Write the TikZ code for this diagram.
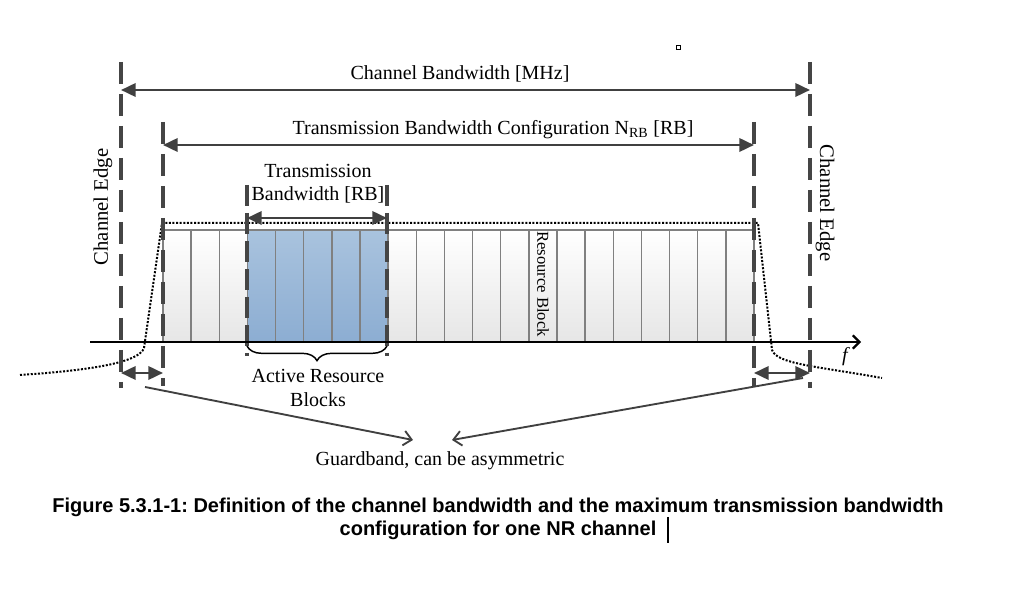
\documentclass[tikz,border=0pt]{standalone}
\usepackage{fontspec}
\setmainfont{Liberation Serif}
\newfontfamily\capfont{Liberation Sans}
\usetikzlibrary{arrows.meta,decorations.pathreplacing}
\definecolor{dkgray}{HTML}{404040}
\definecolor{edgegray}{HTML}{454545}
\definecolor{rbline}{HTML}{808080}
\definecolor{rbtop}{HTML}{FFFFFF}
\definecolor{rbbot}{HTML}{E6E6E6}
\definecolor{actop}{HTML}{A9C3DE}
\definecolor{acbot}{HTML}{8CADD2}
\frenchspacing
\begin{document}
\begin{tikzpicture}[x=0.75pt,y=-0.75pt,
  edgeline/.style={draw=edgegray,line width=2.5pt,dash pattern=on 16.5pt off 7.5pt},
  actline/.style={draw=edgegray,line width=2.5pt,dash pattern=on 16pt off 5pt},
  dimarrow/.style={draw=dkgray,line width=1.9pt,{Triangle[length=11pt,width=10pt]}-{Triangle[length=11pt,width=10pt]}},
  pointer/.style={draw=dkgray,line width=1.4pt,-{Straight Barb[length=6pt,width=11pt,line width=1.4pt]}},
  axisline/.style={draw=black,line width=1.6pt,-{Straight Barb[length=5pt,width=10pt,line width=1.6pt]}},
  spectrum/.style={draw=black,line width=1.5pt,dash pattern=on 1.5pt off 1.2pt},
  rb/.style={draw=rbline,line width=1.1pt,top color=rbtop,bottom color=rbbot},
  rbact/.style={draw=rbline,line width=1.1pt,top color=actop,bottom color=acbot},
  lbl/.style={font=\fontsize{15}{17.5}\selectfont,inner sep=1pt,align=center},
  caption/.style={font=\capfont\bfseries\fontsize{15}{17.2}\selectfont,inner sep=0pt,align=center}]
\useasboundingbox (0,0) rectangle (1015,605);

% coordinates
\coordinate (LEt) at (121,62);  \coordinate (LEb) at (121,388);
\coordinate (REt) at (810,62);  \coordinate (REb) at (810,388);
\coordinate (LIt) at (163,122); \coordinate (LIb) at (163,386);
\coordinate (RIt) at (754,122); \coordinate (RIb) at (754,386);
\coordinate (ALt) at (247,185); \coordinate (ALb) at (247,356);
\coordinate (ARt) at (387,185); \coordinate (ARb) at (387,356);

% resource blocks
\foreach \i in {0,...,20} {
  \ifnum\i>2 \ifnum\i<8
    \path[rbact] (163+\i*28.143,230) rectangle (163+\i*28.143+28.143,342);
  \else
    \path[rb] (163+\i*28.143,230) rectangle (163+\i*28.143+28.143,342);
  \fi\else
    \path[rb] (163+\i*28.143,230) rectangle (163+\i*28.143+28.143,342);
  \fi
}
\node[rotate=-90,font=\fontsize{12.5}{14}\selectfont,inner sep=0pt] (rbl) at (543,284) {Resource Block};

% spectrum mask
\draw[spectrum] (20,375) .. controls (95,370) and (139,362) .. (144,348)
  -- (162,223) -- (758,223) -- (772,350)
  .. controls (777,364) and (815,366) .. (882,378);

% edge lines
\draw[edgeline] (LEt) -- (LEb);
\draw[edgeline] (REt) -- (REb);
\draw[edgeline] (LIt) -- (LIb);
\draw[edgeline] (RIt) -- (RIb);
\draw[actline] (ALt) -- (ALb);
\draw[actline] (ARt) -- (ARb);

% frequency axis
\coordinate (ax0) at (90,342); \coordinate (ax1) at (861,342);
\draw[axisline] (ax0) -- (ax1);
\node[lbl,font=\fontsize{15}{17}\selectfont\itshape] (f) at (845,357) {f};

% dimension arrows
\coordinate (cbL) at (121,90);  \coordinate (cbR) at (810,90);
\draw[dimarrow] (cbL) -- (cbR);
\node[lbl] (cb) at (460,74) {Channel Bandwidth [MHz]};
\coordinate (tbL) at (163,145); \coordinate (tbR) at (754,145);
\draw[dimarrow] (tbL) -- (tbR);
\node[lbl] (tbc) at (493,130) {Transmission Bandwidth Configuration N\textsubscript{RB} [RB]};
\coordinate (abL) at (247,218); \coordinate (abR) at (387,218);
\draw[dimarrow] (abL) -- (abR);
\node[lbl] (tb) at (318,184) {Transmission\\Bandwidth [RB]};

% brace
\draw[line width=1.1pt,decorate,decoration={brace,mirror,amplitude=11pt}] (247,346) -- (387,346);
\node[lbl] (arb) at (318,388) {Active Resource\\Blocks};

% channel edge labels
\node[lbl,font=\fontsize{15.5}{17.5}\selectfont,rotate=90] (cel) at (103,207) {Channel Edge};
\node[lbl,font=\fontsize{15.5}{17.5}\selectfont,rotate=-90] (cer) at (825,203) {Channel Edge};

% guardbands
\coordinate (gL1) at (121,373); \coordinate (gL2) at (163,373);
\coordinate (gR1) at (754,373); \coordinate (gR2) at (810,373);
\draw[dimarrow] (gL1) -- (gL2);
\draw[dimarrow] (gR1) -- (gR2);
\node[lbl] (gb) at (440,461) {Guardband, can be asymmetric};
\coordinate (pL) at (145,387); \coordinate (pLe) at (413,440);
\coordinate (pR) at (803,378); \coordinate (pRe) at (452,440);
\draw[pointer] (pL) -- (pLe);
\draw[pointer] (pR) -- (pRe);

% caption
\node[caption] (cap1) at (498,507) {Figure 5.3.1-1: Definition of the channel bandwidth and the maximum transmission bandwidth};
\node[caption] (cap2) at (498,530) {configuration for one NR channel};
\coordinate (cur1) at (668,517); \coordinate (cur2) at (668,543);
\draw[line width=0.8pt] (cur1) -- (cur2);
\draw[line width=0.6pt] (676,45) rectangle (680,49);
\end{tikzpicture}
\end{document}
